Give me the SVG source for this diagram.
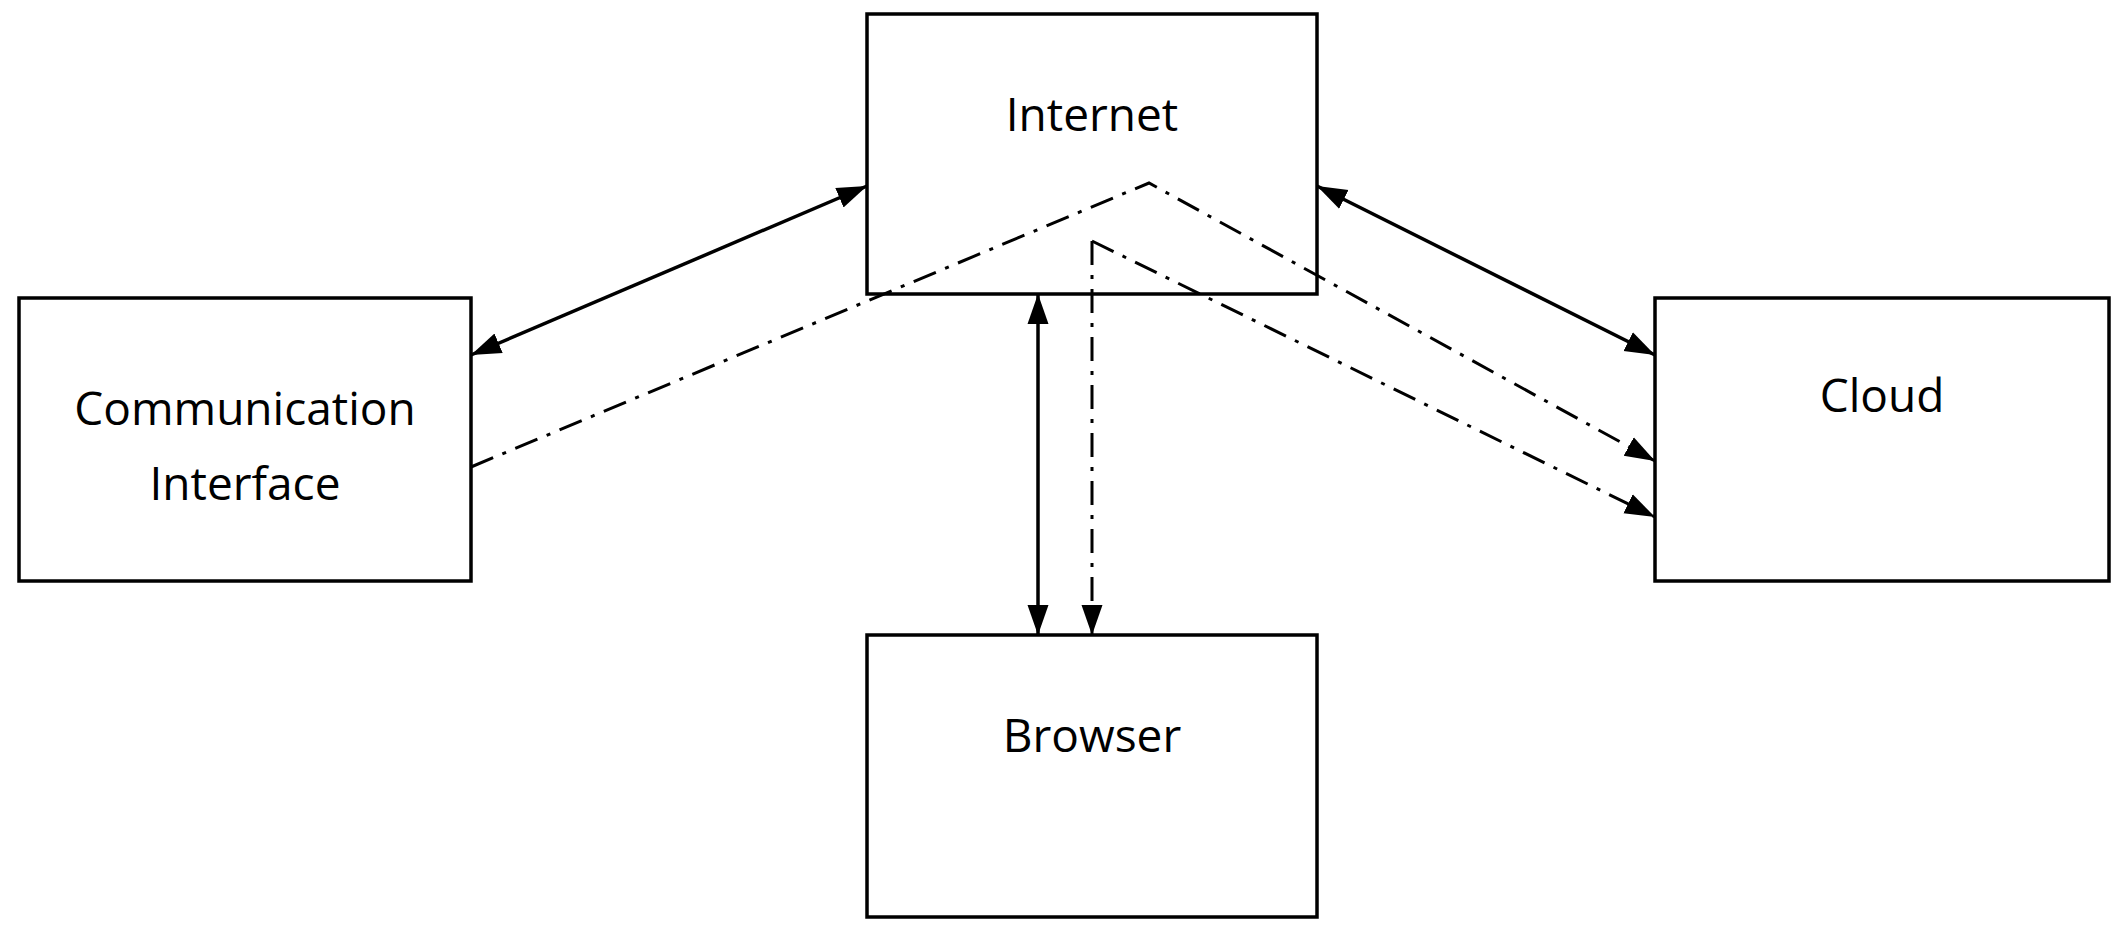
<svg xmlns="http://www.w3.org/2000/svg" width="2124" height="935" viewBox="0 0 2124 935">
<defs>
<marker id="ah" viewBox="0 0 10 10" refX="10" refY="5" markerWidth="10" markerHeight="10" markerUnits="userSpaceOnUse" orient="auto-start-reverse"><path d="M0,0 L10,5 L0,10 z" fill="#000"/></marker>
<style>
.box{fill:#fff;stroke:#000;stroke-width:3.5}
.t{font-family:"Open Sans","DejaVu Sans",sans-serif;font-size:46px;fill:#000;text-anchor:middle}
.s{fill:none;stroke:#000;stroke-width:3.5}
.d{fill:none;stroke:#000;stroke-width:3;stroke-dasharray:24 10 4 10}
</style>
<marker id="a" viewBox="0 0 10 10" refX="10" refY="5" markerWidth="30" markerHeight="30" markerUnits="userSpaceOnUse" orient="auto-start-reverse"><path d="M0,1.5 L10,5 L0,8.5 z" fill="#000"/></marker>
</defs>
<g id="internet"><rect class="box" x="867" y="14" width="450" height="280"/><text class="t" x="1092" y="131">Internet</text></g>
<g id="comm"><rect class="box" x="19" y="298" width="452" height="283"/><text class="t" x="245" y="425">Communication</text><text class="t" x="245" y="500">Interface</text></g>
<g id="cloud"><rect class="box" x="1655" y="298" width="454" height="283"/><text class="t" x="1882" y="412">Cloud</text></g>
<g id="browser"><rect class="box" x="867" y="635" width="450" height="282"/><text class="t" x="1092" y="752">Browser</text></g>
<g id="connectors">
<line class="s" x1="471" y1="355" x2="867" y2="186" marker-start="url(#a)" marker-end="url(#a)"/>
<line class="s" x1="1317" y1="186" x2="1655" y2="355" marker-start="url(#a)" marker-end="url(#a)"/>
<line class="s" x1="1038" y1="294" x2="1038" y2="635" marker-start="url(#a)" marker-end="url(#a)"/>
<polyline class="d" points="471,467 1149,183 1655,461" marker-end="url(#a)"/>
<line class="d" x1="1092" y1="241" x2="1092" y2="635" marker-end="url(#a)"/>
<line class="d" x1="1092" y1="241" x2="1655" y2="517" marker-end="url(#a)"/>
</g>
</svg>
